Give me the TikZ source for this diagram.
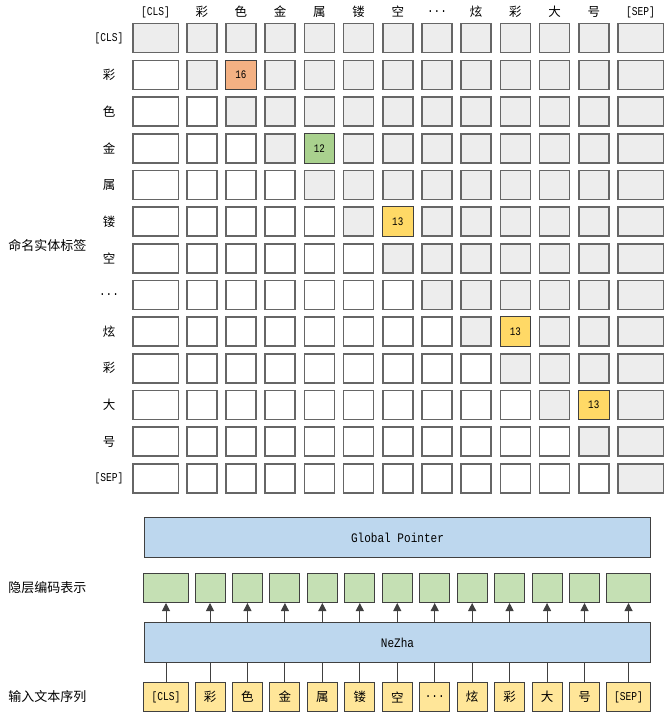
\documentclass[tikz,border=0pt]{standalone}
\usepackage{fontspec}
\setmainfont{Liberation Mono}
\newfontfamily\cjk{Noto Sans CJK SC}
\newfontfamily\latfont[FakeStretch=0.8]{Liberation Mono}
\newfontfamily\botfont[FakeStretch=0.85]{Liberation Mono}
\usetikzlibrary{arrows.meta}
\definecolor{cellgrey}{HTML}{EDEDED}
\definecolor{cellline}{HTML}{666666}
\definecolor{boxline}{HTML}{404040}
\definecolor{bluefill}{HTML}{BDD7EE}
\definecolor{greenfill}{HTML}{C5E0B4}
\definecolor{inputfill}{HTML}{FFE699}
\definecolor{hlorange}{HTML}{F4B183}
\definecolor{hlgreen}{HTML}{A9D18E}
\definecolor{hlyellow}{HTML}{FFD966}
\newcommand\latn{\latfont\fontsize{12}{14}\selectfont}
\newcommand\cjkf{\cjk\fontsize{12.5}{14}\selectfont}
\newcommand\botf{\botfont\fontsize{13}{15}\selectfont}
\newcommand\numf{\latfont\fontsize{11.5}{13}\selectfont}
\begin{document}
\begin{tikzpicture}[x=1pt,y=-1pt,
  cellbox/.style={draw=cellline, line width=1.5pt, inner sep=0pt, minimum height=29pt},
  hlbox/.style={draw=boxline, line width=1pt, inner sep=0pt, minimum height=29.5pt, minimum width=30.5pt},
  bluebox/.style={draw=boxline, line width=1pt, fill=bluefill, inner sep=0pt},
  greenbox/.style={draw=boxline, line width=1pt, fill=greenfill, inner sep=0pt, minimum height=29pt},
  inbox/.style={draw=boxline, line width=1pt, fill=inputfill, inner sep=0pt, minimum height=29pt},
  conn/.style={draw=boxline, line width=1pt},
  arrowconn/.style={draw=boxline, line width=1pt, -{Triangle[length=8pt,width=8pt]}},
  lbl/.style={inner sep=0pt}]
\fill[white] (0,0) rectangle (666,714);
\useasboundingbox (0,0) rectangle (666,714);

% grid
\foreach \r in {0,...,12}{
  \foreach \c in {0,...,12}{
    \ifnum\c=0 \def\cx{155.5}\def\cw{45.5}\else
      \ifnum\c=12 \def\cx{640.5}\def\cw{45.5}\else
        \pgfmathsetmacro\cx{201.75+(\c-1)*39.2}\def\cw{30}\fi\fi
    \pgfmathsetmacro\cy{38.25+\r*36.67}
    \ifnum\c<\r \def\cf{white}\else\def\cf{cellgrey}\fi
    \node[cellbox, fill=\cf, minimum width=\cw pt] (cell-\r-\c) at (\cx,\cy) {};
  }
}

% headers and row labels
\foreach \c/\t in {0/{\latn [CLS]},1/{\cjkf 彩},2/{\cjkf 色},3/{\cjkf 金},4/{\cjkf 属},5/{\cjkf 镂},6/{\cjkf 空},7/{\botf ...},8/{\cjkf 炫},9/{\cjkf 彩},10/{\cjkf 大},11/{\cjkf 号},12/{\latn [SEP]}}{
  \ifnum\c=0 \def\cx{155.5}\else
    \ifnum\c=12 \def\cx{640.5}\else
      \pgfmathsetmacro\cx{201.75+(\c-1)*39.2}\fi\fi
  \pgfmathsetmacro\cy{38.25+\c*36.67}
  \node[lbl] (hdr-\c) at (\cx,12) {\t};
  \node[lbl] (rl-\c) at (109,\cy) {\t};
}

% highlighted cells
\node[hlbox, fill=hlorange] (m1) at (cell-1-2) {\numf 16};
\node[hlbox, fill=hlgreen] (m2) at (cell-3-4) {\numf 12};
\node[hlbox, fill=hlyellow] (m3) at (cell-5-6) {\numf 13};
\node[hlbox, fill=hlyellow] (m4) at (cell-8-9) {\numf 13};
\node[hlbox, fill=hlyellow] (m5) at (cell-10-11) {\numf 13};

% side labels
\node[lbl] (lab1) at (47.5,245) {\cjk\fontsize{13}{15}\selectfont 命名实体标签};
\node[lbl] (lab2) at (47.5,588) {\cjk\fontsize{13}{15}\selectfont 隐层编码表示};
\node[lbl] (lab3) at (47.5,697) {\cjk\fontsize{13}{15}\selectfont 输入文本序列};

% big boxes
\node[bluebox, minimum width=506pt, minimum height=40pt] (gp) at (397.5,537.5) {\botf Global Pointer};
\node[bluebox, minimum width=506pt, minimum height=40pt] (nezha) at (397.5,642.5) {\botf NeZha};

% hidden and input tokens
\foreach \k/\t in {0/{\latn [CLS]},1/{\cjkf 彩},2/{\cjkf 色},3/{\cjkf 金},4/{\cjkf 属},5/{\cjkf 镂},6/{\cjkf 空},7/{\botf ...},8/{\cjkf 炫},9/{\cjkf 彩},10/{\cjkf 大},11/{\cjkf 号},12/{\latn [SEP]}}{
  \ifnum\k=0 \def\bx{166}\def\bw{45}\else
    \ifnum\k=12 \def\bx{628.5}\def\bw{44}\else
      \pgfmathsetmacro\bx{210+(\k-1)*37.45}\def\bw{30}\fi\fi
  \node[greenbox, minimum width=\bw pt] (hid-\k) at (\bx,588) {};
  \node[inbox, minimum width=\bw pt] (in-\k) at (\bx,697) {\t};
  \draw[conn] (in-\k.north) -- (in-\k.north |- nezha.south);
  \draw[arrowconn] (hid-\k.south |- nezha.north) -- (hid-\k.south);
}
\end{tikzpicture}
\end{document}
